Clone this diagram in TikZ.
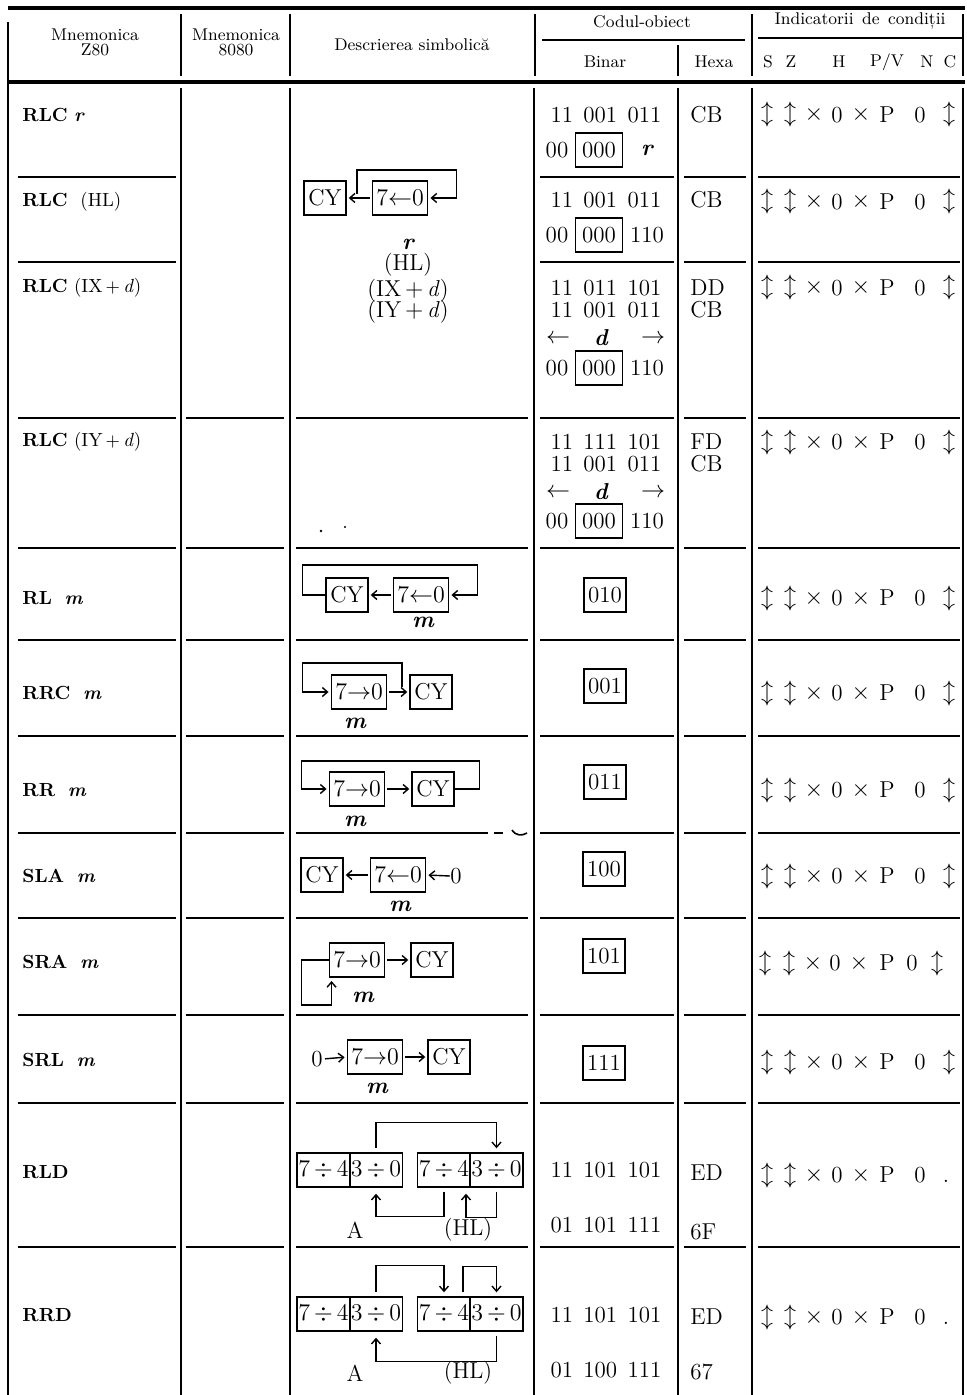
\documentclass[tikz,border=0pt]{standalone}
\usepackage{fontspec}
\usetikzlibrary{arrows.meta}
\tikzset{%
  gridline/.style={line width=0.8pt},%
  boldline/.style={line width=1.7pt},%
  hdr/.style={font=\fontsize{8.5pt}{7.5pt}\selectfont, align=center, inner sep=0pt},%
  mnem/.style={anchor=west, font=\fontsize{9.5pt}{10pt}\selectfont, inner sep=0pt},%
  celltext/.style={font=\fontsize{11.5pt}{12pt}\selectfont, inner sep=0pt},%
  hexa/.style={celltext, anchor=west},%
  regbox/.style={draw, line width=0.7pt, font=\fontsize{11.5pt}{12pt}\selectfont, minimum height=17pt, minimum width=21pt, inner xsep=2pt, inner ysep=0pt},%
  nibble/.style={regbox, minimum width=26.5pt, inner xsep=0.3pt},%
  wire/.style={line width=0.7pt},%
  wirearrow/.style={wire, -{Straight Barb[length=2.6pt,width=4.5pt]}},%
  gap/.style={shorten <=1pt, shorten >=1pt},%
}
\newcommand{\bits}[3]{#1\hspace{0.45em}#2\hspace{0.45em}#3}
\newcommand{\opnd}[1]{{\bfseries\itshape #1}}
\newcommand{\rotl}{$7{\leftarrow}0$}
\newcommand{\rotr}{$7{\rightarrow}0$}
\newcommand{\nib}[2]{$#1\,{\div}\,#2$}

\begin{document}
\begin{tikzpicture}[x=0.5pt, y=-0.5pt]%
\useasboundingbox (0,0) rectangle (967,1395);%
% frame and header
\draw[boldline] (8,8) -- (965,8);%
\draw[boldline] (8,82) -- (965,82);%
\draw[line width=1.3pt] (8,22) -- (8,1395);%
\foreach \cx in {181,290,535,752,963} {\draw[gridline] (\cx,14) -- (\cx,76);}%
\draw[gridline] (678,45) -- (678,76);%
\draw[gridline] (542,40) -- (745,40);%
\draw[gridline] (758,38) -- (963,38);%
\foreach \cx in {181,290,534,678,752,963} {\draw[gridline] (\cx,88) -- (\cx,1395);}%
\node[hdr] (hZ80) at (95,42) {Mnemonica\\Z80};%
\node[hdr] (h8080) at (236,42) {Mnemonica\\8080};%
\node[hdr] (hDesc) at (412,45) {Descrierea simbolică};%
\node[hdr] (hCod) at (642,22) {Codul-obiect};%
\node[hdr] (hInd) at (860,21) {Indicatorii\hspace{0.5em}de\hspace{0.5em}condiții};%
\node[hdr] (hBin) at (605,62) {Binar};%
\node[hdr] (hHex) at (714,62) {Hexa};%
\node[hdr] (hS) at (768,62) {S};%
\node[hdr] (hZ) at (791,62) {Z};%
\node[hdr] (hH) at (839,62) {H};%
\node[hdr] (hPV) at (887,62) {P/V};%
\node[hdr] (hN) at (927,62) {N};%
\node[hdr] (hC) at (950,62) {C};%
% row rules
\foreach \ry in {177,262} {%
  \draw[gridline] (18,\ry) -- (176,\ry);%
  \draw[gridline] (540,\ry) -- (674,\ry);%
  \draw[gridline] (684,\ry) -- (746,\ry);%
  \draw[gridline] (758,\ry) -- (960,\ry);%
}%
\foreach \ry in {418,548,640,736,833,918,1015,1103,1247} {%
  \draw[gridline] (18,\ry) -- (176,\ry);%
  \draw[gridline] (186,\ry) -- (284,\ry);%
  \draw[gridline] (540,\ry) -- (674,\ry);%
  \draw[gridline] (684,\ry) -- (746,\ry);%
  \draw[gridline] (758,\ry) -- (960,\ry);%
}%
\foreach \ry in {418,548,640,736,918,1015,1103,1247} {\draw[gridline] (296,\ry) -- (528,\ry);}%
\draw[gridline] (296,833) -- (488,833) (494,833) -- (503,833);%
\draw[gridline] (512,830) .. controls (516,836) and (522,836) .. (527,833);%
\fill (321,531) circle (0.7pt);%
\fill (345,527) circle (0.6pt);%
% mnemonics
\node[mnem] (mRLCr) at (22,115) {\textbf{RLC} \opnd{r}};%
\node[mnem] (mRLChl) at (22,202) {\textbf{RLC}\ \ (HL)};%
\node[mnem] (mRLCix) at (22,288) {\textbf{RLC} (IX\,$+$\,\textit{d})};%
\node[mnem] (mRLCiy) at (22,442) {\textbf{RLC} (IY\,$+$\,\textit{d})};%
\node[mnem] (mRL) at (22,598) {\textbf{RL}\ \ \opnd{m}};%
\node[mnem] (mRRC) at (22,693) {\textbf{RRC}\ \ \opnd{m}};%
\node[mnem] (mRR) at (22,790) {\textbf{RR}\ \ \opnd{m}};%
\node[mnem] (mSLA) at (22,876) {\textbf{SLA}\ \ \opnd{m}};%
\node[mnem] (mSRA) at (22,962) {\textbf{SRA}\ \ \opnd{m}};%
\node[mnem] (mSRL) at (22,1060) {\textbf{SRL}\ \ \opnd{m}};%
\node[mnem] (mRLD) at (22,1172) {\textbf{RLD}};%
\node[mnem] (mRRD) at (22,1315) {\textbf{RRD}};%
% RLC description
\node[regbox] (rlcCY) at (325,198) {CY};%
\node[regbox, minimum width=27.5pt] (rlcR) at (400,198) {\rotl};%
\coordinate (rlcTap) at (357,194);%
\draw[wirearrow, gap] (rlcR.west) -- (rlcCY.east);%
\draw[wirearrow, shorten >=1pt] (rlcTap) -- ++(0,-24) -| ([xshift=14pt]rlcR.east) -- (rlcR.east);%
\node[celltext] (dR) at (408,244) {\opnd{r}};%
\node[celltext] (dHL) at (408,265) {(HL)};%
\node[celltext] (dIX) at (408,291) {(IX\,$+$\,\textit{d})};%
\node[celltext] (dIY) at (408,312) {(IY\,$+$\,\textit{d})};%
% RL
\node[regbox] (rlCY) at (347,595) {CY};%
\node[regbox, minimum width=26pt] (rlR) at (421,595) {\rotl};%
\draw[wirearrow, gap] (rlR.west) -- (rlCY.east);%
\draw[wirearrow, shorten >=1pt] (rlCY.west) -- ++(-23,0) -- ++(0,-30) -| ([xshift=14pt]rlR.east) -- (rlR.east);%
\node[celltext] (rlM) at (423,622) {\opnd{m}};%
% RRC
\node[regbox, minimum width=27pt] (rrcR) at (359,692) {\rotr};%
\node[regbox] (rrcCY) at (431,692) {CY};%
\coordinate (rrcTap) at (402,687);%
\draw[wirearrow, gap] (rrcR.east) -- (rrcCY.west);%
\draw[wirearrow, shorten >=1pt] (rrcTap) -- ++(0,-24) -| ([xshift=-14pt]rrcR.west) -- (rrcR.west);%
\node[celltext] (rrcM) at (355,723) {\opnd{m}};%
% RR
\node[regbox, minimum width=27pt] (rrR) at (357,789) {\rotr};%
\node[regbox] (rrCY) at (433,789) {CY};%
\draw[wirearrow, gap] (rrR.east) -- (rrCY.west);%
\draw[wirearrow, shorten >=1pt] (rrCY.east) -- ++(25,0) -- ++(0,-28) -| ([xshift=-13.5pt]rrR.west) -- (rrR.west);%
\node[celltext] (rrM) at (355,821) {\opnd{m}};%
% SLA
\node[regbox] (slaCY) at (322,875) {CY};%
\node[regbox, minimum width=26.5pt] (slaR) at (398,875) {\rotl};%
\node[celltext] (slaZ) at (456,876) {0};%
\draw[wirearrow, gap] (slaR.west) -- (slaCY.east);%
\draw[wirearrow, shorten >=1pt] (slaZ.west) -- (slaR.east);%
\node[celltext] (slaM) at (400,906) {\opnd{m}};%
% SRA
\node[regbox, minimum width=27pt] (sraR) at (357,960) {\rotr};%
\node[regbox] (sraCY) at (432,960) {CY};%
\draw[wirearrow, gap] (sraR.east) -- (sraCY.west);%
\draw[wirearrow] (sraR.west) -- ++(-27,0) -- ++(0,45) -- ++(30,0) -- ++(0,-24);%
\node[celltext] (sraM) at (363,997) {\opnd{m}};%
% SRL
\node[celltext] (srlZ) at (317,1059) {0};%
\node[regbox, minimum width=27pt] (srlR) at (375,1057) {\rotr};%
\node[regbox] (srlCY) at (449,1057) {CY};%
\draw[wirearrow, gap] (srlZ.east) -- (srlR.west);%
\draw[wirearrow, gap] (srlR.east) -- (srlCY.west);%
\node[celltext] (srlM) at (377,1088) {\opnd{m}};%
% RLD
\node[nibble] (rldAhi) at (323.5,1170) {\nib{7}{4}};%
\node[nibble] (rldAlo) at (376,1170) {\nib{3}{0}};%
\node[nibble] (rldHhi) at (444,1170) {\nib{7}{4}};%
\node[nibble] (rldHlo) at (496.5,1170) {\nib{3}{0}};%
\draw[wirearrow] ([yshift=2pt]rldAlo.north) -- ++(0,-26) -| ([yshift=2pt]rldHlo.north);%
\draw[wirearrow] ([yshift=-2pt]rldHhi.south) -- ++(0,25) -| ([yshift=-3pt]rldAlo.south);%
\draw[wirearrow] ([yshift=-2pt]rldHlo.south) -- ++(0,26) -| ([xshift=11pt,yshift=-3pt]rldHhi.south);%
\node[celltext] (rldA) at (355,1230) {A};%
\node[celltext] (rldHL) at (468,1230) {(HL)};%
% RRD
\node[nibble] (rrdAhi) at (323.5,1314) {\nib{7}{4}};%
\node[nibble] (rrdAlo) at (376,1314) {\nib{3}{0}};%
\node[nibble] (rrdHhi) at (444,1314) {\nib{7}{4}};%
\node[nibble] (rrdHlo) at (496.5,1314) {\nib{3}{0}};%
\draw[wirearrow] ([yshift=2pt]rrdAlo.north) -- ++(0,-27) -| ([yshift=2pt]rrdHhi.north);%
\draw[wirearrow] ([xshift=9.5pt,yshift=2pt]rrdHhi.north) -- ++(0,-26) -| ([yshift=2pt]rrdHlo.north);%
\draw[wirearrow] ([yshift=-2pt]rrdHlo.south) -- ++(0,26) -| ([yshift=-3pt]rrdAlo.south);%
\node[celltext] (rrdA) at (355,1373) {A};%
\node[celltext] (rrdHL) at (468,1373) {(HL)};%
% binary codes
\node[celltext] (bA1) at (606,115) {\bits{11}{001}{011}};%
\node[celltext] (bA2) at (557,150) {00};%
\node[regbox, minimum width=23.5pt] (bA3) at (599,150) {000};%
\node[celltext] (bA4) at (647,150) {\opnd{r}};%
\node[celltext] (bB1) at (606,200) {\bits{11}{001}{011}};%
\node[celltext] (bB2) at (557,235) {00};%
\node[regbox, minimum width=23.5pt] (bB3) at (599,235) {000};%
\node[celltext] (bB4) at (647,235) {110};%
\node[celltext] (bC1) at (606,288) {\bits{11}{011}{101}};%
\node[celltext] (bC2) at (606,310) {\bits{11}{001}{011}};%
\node[celltext] (bC3) at (558,339) {$\leftarrow$};%
\node[celltext] (bC4) at (601,338) {\opnd{d}};%
\node[celltext] (bC5) at (653,339) {$\rightarrow$};%
\node[celltext] (bC6) at (557,368) {00};%
\node[regbox, minimum width=23.5pt] (bC7) at (599,368) {000};%
\node[celltext] (bC8) at (647,368) {110};%
\node[celltext] (bD1) at (606,442) {\bits{11}{111}{101}};%
\node[celltext] (bD2) at (606,464) {\bits{11}{001}{011}};%
\node[celltext] (bD3) at (558,493) {$\leftarrow$};%
\node[celltext] (bD4) at (601,492) {\opnd{d}};%
\node[celltext] (bD5) at (653,493) {$\rightarrow$};%
\node[celltext] (bD6) at (557,521) {00};%
\node[regbox, minimum width=23.5pt] (bD7) at (599,521) {000};%
\node[celltext] (bD8) at (647,521) {110};%
\node[regbox] (cRL) at (605,595) {010};%
\node[regbox] (cRRC) at (605,686) {001};%
\node[regbox] (cRR) at (605,782) {011};%
\node[regbox] (cSLA) at (604,869) {100};%
\node[regbox] (cSRA) at (604,956) {101};%
\node[regbox] (cSRL) at (604,1063) {111};%
\node[celltext] (bE1) at (606,1170) {\bits{11}{101}{101}};%
\node[celltext] (bE2) at (606,1225) {\bits{01}{101}{111}};%
\node[celltext] (bF1) at (606,1315) {\bits{11}{101}{101}};%
\node[celltext] (bF2) at (606,1370) {\bits{01}{100}{111}};%
% hexa codes
\node[hexa] (xA) at (690,115) {CB};%
\node[hexa] (xB) at (690,200) {CB};%
\node[hexa] (xC1) at (690,288) {DD};%
\node[hexa] (xC2) at (690,310) {CB};%
\node[hexa] (xD1) at (690,442) {FD};%
\node[hexa] (xD2) at (690,464) {CB};%
\node[hexa] (xE1) at (690,1173) {ED};%
\node[hexa] (xE2) at (690,1232) {6F};%
\node[hexa] (xF1) at (690,1317) {ED};%
\node[hexa] (xF2) at (690,1372) {67};%
% flags
\foreach \fy/\fn in {115/a,202/b,288/c,442/d,598/e,693/f,790/g,876/h,1062/k} {%
  \node[celltext] (fS\fn) at (767,\fy) {$\updownarrow$};%
  \node[celltext] (fZ\fn) at (790,\fy) {$\updownarrow$};%
  \node[celltext] (fX\fn) at (814,\fy) {$\times$};%
  \node[celltext] (fH\fn) at (837,\fy) {0};%
  \node[celltext] (fY\fn) at (861,\fy) {$\times$};%
  \node[celltext] (fP\fn) at (887,\fy) {P};%
  \node[celltext] (fN\fn) at (920,\fy) {0};%
  \node[celltext] (fC\fn) at (949,\fy) {$\updownarrow$};%
}%
\node[celltext] (fSi) at (765,963) {$\updownarrow$};%
\node[celltext] (fZi) at (789,963) {$\updownarrow$};%
\node[celltext] (fXi) at (813,963) {$\times$};%
\node[celltext] (fHi) at (835,963) {0};%
\node[celltext] (fYi) at (859,963) {$\times$};%
\node[celltext] (fPi) at (887,963) {P};%
\node[celltext] (fNi) at (912,963) {0};%
\node[celltext] (fCi) at (937,963) {$\updownarrow$};%
\foreach \fy/\fn in {1175/m,1317/n} {%
  \node[celltext] (fS\fn) at (767,\fy) {$\updownarrow$};%
  \node[celltext] (fZ\fn) at (790,\fy) {$\updownarrow$};%
  \node[celltext] (fX\fn) at (814,\fy) {$\times$};%
  \node[celltext] (fH\fn) at (837,\fy) {0};%
  \node[celltext] (fY\fn) at (861,\fy) {$\times$};%
  \node[celltext] (fP\fn) at (887,\fy) {P};%
  \node[celltext] (fN\fn) at (920,\fy) {0};%
  \node[celltext] (fC\fn) at (946,\fy+6) {.};%
}%
\end{tikzpicture}
\end{document}
